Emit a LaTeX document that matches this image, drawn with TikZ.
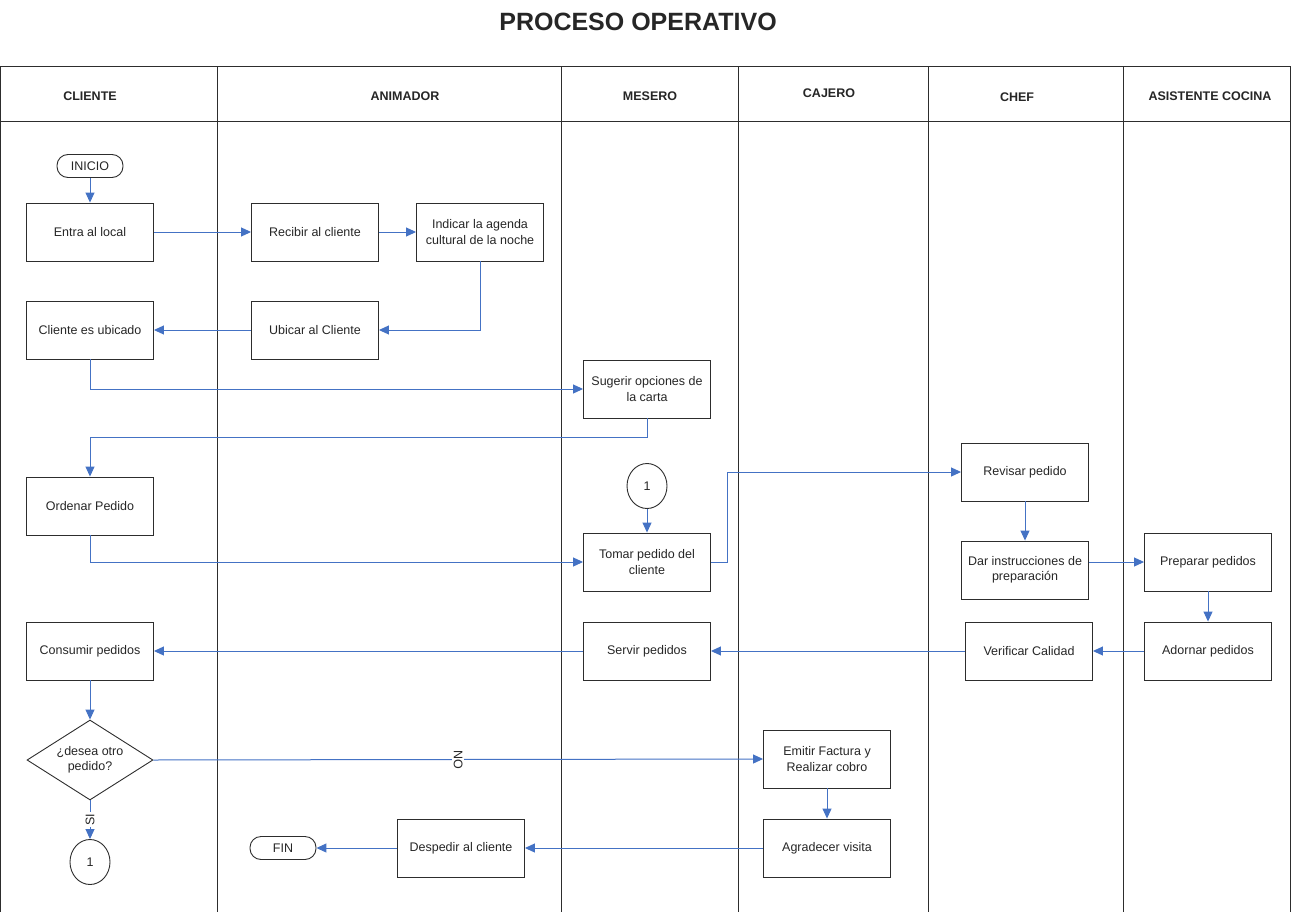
\documentclass[tikz,border=0pt]{standalone}
\usepackage{fontspec}
\setmainfont{Liberation Sans}
\usetikzlibrary{positioning,shapes.geometric,arrows.meta}
\definecolor{flecha}{RGB}{68,114,196}
\definecolor{borde}{RGB}{45,45,45}

\begin{document}
\begin{tikzpicture}[x=1pt,y=-1pt,on grid,
    caja/.style={draw=borde,line width=0.9pt,minimum width=127pt,minimum height=58pt,align=center,text=black!85,font=\fontsize{12.5}{15.5}\selectfont},
    terminal/.style={caja,rounded corners=11pt,minimum width=66pt,minimum height=23pt},
    conector/.style={caja,ellipse,inner sep=0pt,minimum width=40pt,minimum height=45pt},
    decision/.style={caja,diamond,inner sep=-8pt,minimum width=126pt,minimum height=80pt},
    flujo/.style={draw=flecha,line width=1pt,-{Triangle[length=10pt,width=9pt]}},
    etiqueta/.style={fill=white,inner sep=1.5pt,text=black!85,font=\fontsize{12.5}{15}\selectfont},
    cabecera/.style={text=black!85,font=\bfseries\fontsize{12.5}{15}\selectfont}]
    \useasboundingbox (0,0) rectangle (1295,912);

    \node[font=\bfseries\fontsize{25}{29}\selectfont,text=black!85] (titulo) at (638,22) {PROCESO OPERATIVO};

    \draw[borde,line width=1pt] (0.5,912) -- (0.5,67) -- (1290,67) -- (1290,912);
    \draw[borde,line width=1pt] (0.5,122) -- (1290,122);
    \foreach \x in {217,561,738,928,1123}
        \draw[borde,line width=1pt] (\x,67) -- (\x,912);

    \node[cabecera] (hcliente) at (90,96) {CLIENTE};
    \node[cabecera] (hanimador) at (405,96) {ANIMADOR};
    \node[cabecera] (hmesero) at (650,96) {MESERO};
    \node[cabecera] (hcajero) at (829,93) {CAJERO};
    \node[cabecera] (hchef) at (1017,97) {CHEF};
    \node[cabecera] (hasistente) at (1210,96) {ASISTENTE COCINA};

    \node[terminal] (inicio) at (90,166) {INICIO};
    \node[caja] (entra) at (90,232) {Entra al local};
    \node[caja] (recibir) [right=225pt of entra] {Recibir al cliente};
    \node[caja] (indicar) [right=165pt of recibir] {Indicar la agenda\\cultural de la noche};
    \node[caja] (ubicado) [below=98pt of entra] {Cliente es ubicado};
    \node[caja] (ubicar) [below=98pt of recibir] {Ubicar al Cliente};
    \node[caja] (sugerir) at (647,389) {Sugerir opciones de\\la carta};
    \node[caja] (ordenar) at (90,506) {Ordenar Pedido};
    \node[conector] (uno) at (647,486) {1};
    \node[caja] (tomar) [below=76pt of uno] {Tomar pedido del\\cliente};
    \node[caja] (revisar) at (1025,472) {Revisar pedido};
    \node[caja] (dar) [below=98pt of revisar] {Dar instrucciones de\\preparación};
    \node[caja] (preparar) at (1208,562) {Preparar pedidos};
    \node[caja] (adornar) [below=89pt of preparar] {Adornar pedidos};
    \node[caja] (verificar) at (1029,651) {Verificar Calidad};
    \node[caja] (servir) at (647,651) {Servir pedidos};
    \node[caja] (consumir) at (90,651) {Consumir pedidos};
    \node[decision] (desea) at (90,760) {¿desea otro\\pedido?};
    \node[conector] (dos) at (90,862) {1};
    \node[caja] (emitir) at (827,759) {Emitir Factura y\\Realizar cobro};
    \node[caja] (agradecer) [below=89pt of emitir] {Agradecer visita};
    \node[caja] (despedir) at (461,848) {Despedir al cliente};
    \node[terminal] (fin) at (283,848) {FIN};

    \draw[flujo] (inicio) -- (entra);
    \draw[flujo] (entra) -- (recibir);
    \draw[flujo] (recibir) -- (indicar);
    \draw[flujo] (indicar.south) |- (ubicar.east);
    \draw[flujo] (ubicar) -- (ubicado);
    \draw[flujo] (ubicado.south) |- (sugerir.west);
    \draw[flujo] (sugerir.south) -- ++(0,19) -| (ordenar.north);
    \draw[flujo] (ordenar.south) |- (tomar.west);
    \draw[flujo] (uno) -- (tomar);
    \draw[flujo] (tomar.east) -- ++(17,0) |- (revisar.west);
    \draw[flujo] (revisar) -- (dar);
    \draw[flujo] (dar.east |- preparar.west) -- (preparar.west);
    \draw[flujo] (preparar) -- (adornar);
    \draw[flujo] (adornar) -- (verificar);
    \draw[flujo] (verificar) -- (servir);
    \draw[flujo] (servir) -- (consumir);
    \draw[flujo] (consumir) -- (desea);
    \draw[flujo] (desea.east) -- node[etiqueta,rotate=-90] {NO} (emitir.west);
    \draw[flujo] (desea.south) -- node[etiqueta,rotate=90] {SI} (dos.north);
    \draw[flujo] (emitir) -- (agradecer);
    \draw[flujo] (agradecer) -- (despedir);
    \draw[flujo] (despedir) -- (fin);
\end{tikzpicture}
\end{document}
